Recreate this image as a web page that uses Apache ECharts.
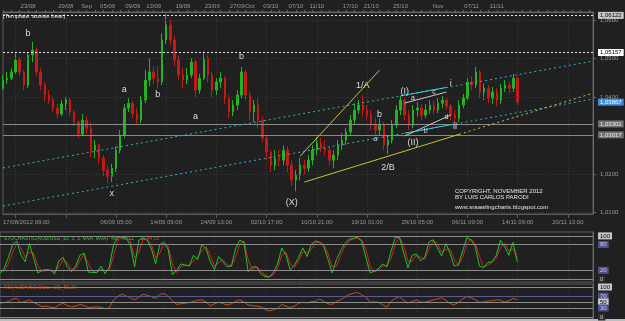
<!DOCTYPE html>
<html>
<head>
<meta charset="utf-8">
<script src="https://cdn.jsdelivr.net/npm/echarts@6/dist/echarts.min.js"></script>
<style>
  html, body { margin: 0; padding: 0; background: #202020; }
  #main { width: 625px; height: 321px; }
</style>
</head>
<body>
<div id="main"></div>
<script>
// AUD/USD H4 candles, [open, close, low, high]
const ohlc = [
  [1.0423,1.0444,1.0418,1.0457],[1.0444,1.0449,1.0434,1.0465],[1.0449,1.0465,1.0444,1.0475],
  [1.0465,1.0496,1.0460,1.0514],[1.0496,1.0465,1.0455,1.0504],[1.0465,1.0431,1.0418,1.0470],
  [1.0431,1.0509,1.0423,1.0517],[1.0509,1.0522,1.0491,1.0543],[1.0522,1.0465,1.0455,1.0527],
  [1.0465,1.0431,1.0418,1.0475],[1.0431,1.0405,1.0387,1.0439],[1.0405,1.0392,1.0382,1.0418],
  [1.0392,1.0371,1.0361,1.0400],[1.0371,1.0356,1.0345,1.0382],[1.0356,1.0382,1.0350,1.0392],
  [1.0382,1.0392,1.0366,1.0400],[1.0392,1.0361,1.0350,1.0397],[1.0361,1.0335,1.0324,1.0366],
  [1.0335,1.0304,1.0293,1.0340],[1.0304,1.0340,1.0298,1.0356],[1.0340,1.0319,1.0304,1.0350],
  [1.0319,1.0262,1.0244,1.0335],[1.0262,1.0275,1.0241,1.0288],[1.0275,1.0241,1.0228,1.0280],
  [1.0241,1.0210,1.0194,1.0249],[1.0210,1.0194,1.0176,1.0223],[1.0194,1.0215,1.0179,1.0226],
  [1.0215,1.0262,1.0205,1.0272],[1.0262,1.0301,1.0254,1.0314],[1.0301,1.0371,1.0293,1.0382],
  [1.0371,1.0384,1.0361,1.0397],[1.0384,1.0356,1.0345,1.0389],[1.0356,1.0340,1.0330,1.0371],
  [1.0340,1.0392,1.0332,1.0402],[1.0392,1.0444,1.0384,1.0470],[1.0444,1.0465,1.0428,1.0501],
  [1.0465,1.0449,1.0434,1.0480],[1.0449,1.0439,1.0423,1.0480],[1.0439,1.0548,1.0431,1.0566],
  [1.0548,1.0587,1.0538,1.0616],[1.0587,1.0548,1.0535,1.0600],[1.0548,1.0496,1.0480,1.0558],
  [1.0496,1.0457,1.0444,1.0509],[1.0457,1.0444,1.0423,1.0475],[1.0444,1.0457,1.0434,1.0475],
  [1.0457,1.0491,1.0449,1.0501],[1.0491,1.0418,1.0400,1.0496],[1.0418,1.0449,1.0408,1.0460],
  [1.0449,1.0501,1.0444,1.0519],[1.0501,1.0457,1.0439,1.0509],[1.0457,1.0418,1.0400,1.0465],
  [1.0418,1.0439,1.0405,1.0449],[1.0439,1.0449,1.0423,1.0465],[1.0449,1.0397,1.0382,1.0454],
  [1.0397,1.0361,1.0345,1.0405],[1.0361,1.0379,1.0350,1.0392],[1.0379,1.0405,1.0366,1.0418],
  [1.0405,1.0465,1.0397,1.0478],[1.0465,1.0405,1.0392,1.0470],[1.0405,1.0361,1.0340,1.0413],
  [1.0361,1.0379,1.0335,1.0392],[1.0379,1.0340,1.0319,1.0397],[1.0340,1.0293,1.0283,1.0350],
  [1.0293,1.0257,1.0236,1.0301],[1.0257,1.0223,1.0205,1.0262],[1.0223,1.0241,1.0210,1.0262],
  [1.0241,1.0236,1.0220,1.0262],[1.0236,1.0262,1.0223,1.0275],[1.0262,1.0223,1.0205,1.0272],
  [1.0223,1.0184,1.0168,1.0236],[1.0184,1.0197,1.0155,1.0210],[1.0197,1.0223,1.0184,1.0241],
  [1.0223,1.0215,1.0200,1.0236],[1.0215,1.0236,1.0205,1.0249],[1.0236,1.0262,1.0223,1.0275],
  [1.0262,1.0280,1.0249,1.0296],[1.0280,1.0267,1.0257,1.0293],[1.0267,1.0262,1.0249,1.0288],
  [1.0262,1.0236,1.0223,1.0272],[1.0236,1.0249,1.0215,1.0262],[1.0249,1.0275,1.0236,1.0288],
  [1.0275,1.0288,1.0262,1.0306],[1.0288,1.0309,1.0275,1.0319],[1.0309,1.0340,1.0301,1.0353],
  [1.0340,1.0366,1.0330,1.0384],[1.0366,1.0379,1.0356,1.0392],[1.0379,1.0366,1.0350,1.0405],
  [1.0366,1.0353,1.0340,1.0379],[1.0353,1.0327,1.0314,1.0366],[1.0327,1.0314,1.0301,1.0345],
  [1.0314,1.0327,1.0301,1.0345],[1.0327,1.0275,1.0262,1.0335],[1.0275,1.0288,1.0252,1.0301],
  [1.0288,1.0327,1.0280,1.0340],[1.0327,1.0366,1.0319,1.0379],[1.0366,1.0392,1.0353,1.0402],
  [1.0392,1.0353,1.0340,1.0397],[1.0353,1.0327,1.0314,1.0366],[1.0327,1.0366,1.0319,1.0379],
  [1.0366,1.0371,1.0350,1.0387],[1.0371,1.0353,1.0340,1.0382],[1.0353,1.0366,1.0345,1.0382],
  [1.0366,1.0379,1.0356,1.0392],[1.0379,1.0366,1.0356,1.0392],[1.0366,1.0384,1.0358,1.0397],
  [1.0384,1.0392,1.0371,1.0402],[1.0392,1.0376,1.0366,1.0397],[1.0376,1.0353,1.0340,1.0382],
  [1.0353,1.0345,1.0332,1.0366],[1.0345,1.0379,1.0335,1.0392],[1.0379,1.0397,1.0371,1.0408],
  [1.0397,1.0439,1.0392,1.0449],[1.0439,1.0431,1.0418,1.0454],[1.0431,1.0465,1.0423,1.0478],
  [1.0465,1.0413,1.0397,1.0470],[1.0413,1.0423,1.0392,1.0436],[1.0423,1.0397,1.0384,1.0431],
  [1.0397,1.0413,1.0382,1.0426],[1.0413,1.0392,1.0376,1.0423],[1.0392,1.0423,1.0382,1.0434],
  [1.0423,1.0431,1.0413,1.0444],[1.0431,1.0423,1.0410,1.0439],[1.0423,1.0449,1.0413,1.0460],
  [1.0449,1.0387,1.0379,1.0454]
];

const stochK = [13,25,50,80,88,55,40,82,48,14, 20,22,20,12,42,50,28,17,30,55,
  60,16,15,15,30,12,28,80,96,98, 96,78,28,90,95,90,70,35,80,85,
  68,10,20,35,32,30,55,45,80,70, 40,22,52,40,28,30,70,90,85,17,
  28,28,12,6,4,15,35,72,55,21, 32,50,72,52,80,88,85,75,45,14,
  45,66,82,92,94,97,87,50,14,18, 24,35,28,65,97,96,60,26,55,58,
  42,50,86,91,72,53,82,60,30,33, 65,96,90,75,30,26,38,40,55,90,
  75,55,85,40];
const stochD = [20,18,35,62,82,72,50,62,60,30, 18,20,21,16,28,45,38,22,24,42,
  58,35,18,15,22,20,20,55,88,96, 97,88,50,62,92,92,80,50,60,82,
  75,35,15,28,33,31,42,50,65,75, 55,30,38,45,34,29,50,80,88,45,
  22,28,20,9,5,10,25,55,62,35, 27,42,62,62,68,84,86,80,58,28,
  30,55,75,88,93,95,91,68,30,16, 21,30,32,48,82,96,78,42,40,56,
  50,46,70,88,82,62,68,70,45,32, 50,82,93,82,52,28,32,39,48,72,
  82,65,70,45];
const rsi = [46,48,51,60,62,48,52,57,48,42, 34,36,33,31,40,46,38,34,36,42,
  38,31,33,34,32,27,32,57,68,76, 70,64,57,66,76,72,68,62,75,79,
  68,55,42,44,46,48,52,56,57,50, 38,44,49,45,40,44,52,57,50,40,
  38,36,34,26,20,24,29,42,36,31, 36,46,49,47,51,52,60,52,44,42,
  52,58,66,75,79,82,74,66,49,50, 49,40,33,52,62,68,55,46,52,57,
  50,49,53,57,60,64,56,45,40,49, 60,68,64,58,49,50,53,54,57,56,
  50,54,62,58];

const slotCount = 142; // bars plus empty space on the right
const bottomLabels = [[0,'17/08/2012 09:00'],[27,'06/09 05:00'],[39,'14/09 09:00'],[51,'24/09 13:00'],
  [63,'02/10 17:00'],[75,'10/10 21:00'],[87,'19/10 01:00'],[99,'29/10 05:00'],
  [111,'06/11 09:00'],[123,'14/11 09:00'],[135,'20/11 13:00']];
const topLabels = [[6,'23/08'],[15,'29/08'],[20,'Sep'],[25,'05/09'],[31,'09/09'],[36,'13/09'],
  [43,'19/09'],[50,'23/09'],[56,'27/09'],[59,'Oct'],[64,'03/10'],[70,'07/10'],[75,'11/10'],
  [83,'17/10'],[88,'21/10'],[95,'25/10'],[104,'Nov'],[112,'07/11'],[118,'11/11']];
const priceTicks = [1.01, 1.02, 1.04, 1.05, 1.06];
const priceGrid = [1.01, 1.02, 1.03, 1.04, 1.05, 1.06];

const whiteLevels = [1.06122, 1.05157];
const grayLevels = [1.03301, 1.03017];
const lastPrice = 1.03867;

// trend lines, [barIndex, price]
const channelUpper = [[0,1.02156],[141,1.04935]];
const channelLower = [[0,1.01169],[141,1.03948]];
const yellowSteep = [[71,1.0246],[90,1.0470]];
const yellowBase = [[72,1.0179],[109,1.0303]];
const yellowBaseExt = [[109,1.0303],[141,1.0410]];
const lineAC = [[96,1.03844],[106,1.04130]];
const lineBD = [[96,1.02987],[107,1.03532]];
const cyanI = [[95,1.0403],[106,1.0425]];
const cyanII = [[96,1.0306],[108,1.0330]];

const waveLabels = [['b',6,1.05662],['a',29,1.04208],['b',37,1.04078],['b',57,1.05065],
  ['a',46,1.03481],['x',26,1.01481],['(X)',69,1.01247],['1/A',86,1.04312],['b',90,1.03558],
  ['2/B',92,1.02156],['(I)',96,1.04156],['i',107,1.04364],['(II)',98,1.02805],['ii',108,1.03221]];
const minorLabels = [['a',89,1.02909],['a',98,1.03974],['c',103,1.0413],['d',106,1.03481],['b',101,1.03117]];

const stochLevels = [100, 80, 20, 0];
const rsiLevels = [100, 70, 50, 30, 0];

const cats = Array.from({ length: slotCount }, (_, i) => i);
const bottomMap = Object.fromEntries(bottomLabels);
const topMap = Object.fromEntries(topLabels);
const fmt = v => v.toFixed(5).replace('.', ',');
const gridEvery = i => i % 12 === 3;
const FONT = 'Liberation Sans';

function seg(pts, color, type) {
  return [
    { coord: pts[0], lineStyle: { color: color, type: type, width: 1 } },
    { coord: pts[1] }
  ];
}
function boxLabel(text, bg, fg) {
  return { show: true, position: 'end', distance: 5, formatter: text, backgroundColor: bg,
    color: fg, fontSize: 6, padding: [1, 2, 0, 2], fontFamily: FONT };
}

const mainLines = [];
priceGrid.forEach(p => mainLines.push({ yAxis: p, lineStyle: { color: '#3a3a3a', type: [1, 2], width: 1 } }));
whiteLevels.forEach((p, i) => mainLines.push({ yAxis: p, lineStyle: { color: '#e6e6e6', type: [2, 2], width: 1 },
  label: boxLabel(fmt(p), i === 0 ? '#c8c8c8' : '#ffffff', '#000') }));
grayLevels.forEach(p => mainLines.push({ yAxis: p, lineStyle: { color: '#8a8a8a', type: 'solid', width: 1 },
  label: boxLabel(fmt(p), '#707070', '#f0f0f0') }));
// current bid: only the price box, no visible line
mainLines.push({ yAxis: lastPrice, lineStyle: { color: 'rgba(0,0,0,0)', width: 1 },
  label: boxLabel(fmt(lastPrice), '#3f8fdc', '#ffffff') });
mainLines.push(seg(channelUpper, '#2fb4c4', [2, 3]));
mainLines.push(seg(channelLower, '#2fb4c4', [2, 3]));
mainLines.push(seg(yellowSteep, '#c9c236', 'solid'));
mainLines.push(seg(yellowBase, '#c9c236', 'solid'));
mainLines.push(seg(yellowBaseExt, '#c9c236', [2, 3]));
mainLines.push(seg(lineAC, '#c8c8c8', 'solid'));
mainLines.push(seg(lineBD, '#c8c8c8', 'solid'));
mainLines.push(seg(cyanI, '#38d0e0', 'solid'));
mainLines.push(seg(cyanII, '#38d0e0', 'solid'));

const markTexts = waveLabels.map(w => ({ name: w[0], coord: [w[1], w[2]], label: { fontSize: 9 } }))
  .concat(minorLabels.map(w => ({ name: w[0], coord: [w[1], w[2]], label: { fontSize: 7 } })));

function levelLines(levels, purple) {
  return levels.map(v => {
    const isPurple = purple.indexOf(v) >= 0;
    const bg = isPurple ? '#50508e' : (v === 0 ? '#2c2c2c' : '#c8c8c8');
    const fg = isPurple ? '#c8c8ff' : (v === 0 ? '#d0d0d0' : '#000');
    return { yAxis: v, lineStyle: { color: v === 70 ? '#5a5a96' : '#8c8c8c', type: 'solid', width: 1 },
      label: boxLabel(String(v), bg, fg) };
  });
}

const option = {
  backgroundColor: '#202020',
  animation: false,
  textStyle: { fontFamily: FONT },
  grid: [
    { left: 0, right: 32, top: 12, height: 202, show: true, borderColor: '#5a5a5a', borderWidth: 1 },
    { left: 0, right: 32, top: 232, height: 50, show: true, borderColor: '#5a5a5a', borderWidth: 1 },
    { left: 0, right: 32, top: 284, height: 35, show: true, borderColor: '#5a5a5a', borderWidth: 1 }
  ],
  xAxis: [
    { type: 'category', gridIndex: 0, data: cats, boundaryGap: false,
      axisLine: { lineStyle: { color: '#5a5a5a' } },
      axisTick: { show: true, interval: gridEvery, length: 4, lineStyle: { color: '#5a5a5a' } },
      axisLabel: { interval: 0, formatter: (v, i) => bottomMap[i] || '', fontSize: 6, color: '#9a9a9a',
        margin: 5, alignMinLabel: 'left' },
      splitLine: { show: true, interval: gridEvery, lineStyle: { color: '#3a3a3a', type: [1, 2] } } },
    { type: 'category', gridIndex: 0, position: 'top', data: cats, boundaryGap: false,
      axisLine: { lineStyle: { color: '#6a6a6a' } },
      axisTick: { show: true, interval: i => i % 2 === 0, length: 2, lineStyle: { color: '#6a6a6a' } },
      axisLabel: { interval: 0, formatter: (v, i) => topMap[i] || '', fontSize: 6, color: '#9a9a9a', margin: 3 },
      splitLine: { show: false } },
    { type: 'category', gridIndex: 1, data: cats, boundaryGap: false,
      axisLine: { show: false }, axisTick: { show: false }, axisLabel: { show: false },
      splitLine: { show: true, interval: gridEvery, lineStyle: { color: '#3a3a3a', type: [1, 2] } } },
    { type: 'category', gridIndex: 2, data: cats, boundaryGap: false,
      axisLine: { show: false }, axisTick: { show: false }, axisLabel: { show: false },
      splitLine: { show: true, interval: gridEvery, lineStyle: { color: '#3a3a3a', type: [1, 2] } } }
  ],
  yAxis: [
    { type: 'value', gridIndex: 0, position: 'right', min: 1.0096, max: 1.0621, scale: true,
      axisLine: { show: true, lineStyle: { color: '#6a6a6a' } },
      axisTick: { show: true, customValues: priceTicks, length: 3, lineStyle: { color: '#6a6a6a' } },
      axisLabel: { customValues: priceTicks, formatter: v => v.toFixed(4).replace('.', ','),
        fontSize: 6, color: '#9a9a9a', margin: 7 },
      splitLine: { show: false } },
    { type: 'value', gridIndex: 1, position: 'right', min: -7, max: 109,
      axisLine: { show: true, lineStyle: { color: '#6a6a6a' } }, axisTick: { show: false },
      axisLabel: { show: false }, splitLine: { show: false } },
    { type: 'value', gridIndex: 2, position: 'right', min: -6.7, max: 110,
      axisLine: { show: true, lineStyle: { color: '#6a6a6a' } }, axisTick: { show: false },
      axisLabel: { show: false }, splitLine: { show: false } }
  ],
  series: [
    { type: 'candlestick', xAxisIndex: 0, yAxisIndex: 0, data: ohlc, barWidth: 2,
      itemStyle: { color: '#22b422', color0: '#c41a1a', borderColor: '#22b422', borderColor0: '#c41a1a', borderWidth: 1 },
      markLine: { silent: true, precision: 6, symbol: ['none', 'none'], animation: false, label: { show: false }, data: mainLines },
      markPoint: { silent: true, symbol: 'circle', symbolSize: 1, animation: false,
        itemStyle: { color: 'rgba(0,0,0,0)' },
        label: { show: true, position: 'inside', color: '#dcdcdc', fontFamily: FONT, formatter: p => p.name },
        data: markTexts } },
    { type: 'line', xAxisIndex: 2, yAxisIndex: 1, data: stochD, symbol: 'none',
      lineStyle: { color: '#d42222', width: 1 },
      markLine: { silent: true, precision: 2, symbol: ['none', 'none'], animation: false, label: { show: false },
        data: levelLines(stochLevels, [80, 20]) } },
    { type: 'line', xAxisIndex: 2, yAxisIndex: 1, data: stochK, symbol: 'none',
      lineStyle: { color: '#22c422', width: 1 } },
    { type: 'line', xAxisIndex: 3, yAxisIndex: 2, data: rsi, symbol: 'none',
      lineStyle: { color: '#c8501e', width: 1 },
      markLine: { silent: true, precision: 2, symbol: ['none', 'none'], animation: false, label: { show: false },
        data: levelLines(rsiLevels, [70, 30]) } }
  ],
  graphic: [
    { type: 'text', left: 3, top: 13, silent: true,
      style: { text: '[Template: aussie bear]', fill: '#e6e6e6', fontSize: 6, fontFamily: FONT } },
    { type: 'text', left: 4, top: 233, silent: true,
      style: { text: '{g|STOCHASTIC(AUD/USD, 10, 3, 3, MVA, MVA)  %K: 40,12}  {r|D: 44,55}',
        rich: { g: { fill: '#2ecc2e', fontSize: 5, fontFamily: FONT }, r: { fill: '#e03030', fontSize: 5, fontFamily: FONT } } } },
    { type: 'text', left: 4, top: 285, silent: true,
      style: { text: 'RSI(AUD/USD,Close, 13): 60,29', fill: '#c8501e', fontSize: 5, fontFamily: FONT } },
    { type: 'text', left: 455, top: 188, silent: true,
      style: { text: 'COPYRIGHT, NOVEMBER 2012', fill: '#e6e6e6', fontSize: 6, fontFamily: FONT } },
    { type: 'text', left: 455, top: 194, silent: true,
      style: { text: 'BY LUIS CARLOS PARODI', fill: '#e6e6e6', fontSize: 6, fontFamily: FONT } },
    { type: 'text', left: 455, top: 204, silent: true,
      style: { text: 'www.sraawlingcharts.blogspot.com', fill: '#e6e6e6', fontSize: 6, fontFamily: FONT } },
    { type: 'rect', left: 0, top: 319, silent: true, shape: { width: 625, height: 2 }, style: { fill: '#bdbdbd' } }
  ]
};

var myChart = echarts.init(document.getElementById('main'));
myChart.setOption(option);
window.onresize = function () { myChart.resize(); };
</script>
</body>
</html>
